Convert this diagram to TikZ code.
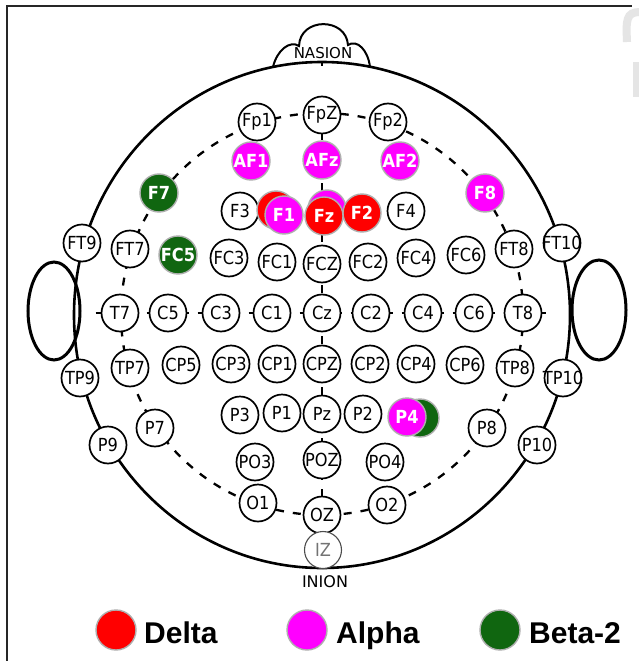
\documentclass[tikz,border=0pt]{standalone}
\usepackage{fontspec}
\setmainfont{DejaVu Sans}
\newfontfamily\elfont[FakeStretch=0.9]{DejaVu Sans}
\newfontfamily\legfont{Liberation Sans}
\usetikzlibrary{backgrounds}
\definecolor{deltared}{RGB}{255,0,0}
\definecolor{alphamag}{RGB}{255,0,255}
\definecolor{betagreen}{RGB}{16,102,16}
\definecolor{halo}{RGB}{175,175,175}
\tikzset{
  elec/.style={circle, draw=black, line width=1.7pt, fill=white, minimum size=37pt,
    inner sep=-9pt, font=\elfont\fontsize{18}{18}\selectfont},
  hit/.style={circle, draw=halo, line width=1.4pt, minimum size=38pt, inner sep=-9pt,
    text=white, font=\elfont\bfseries\fontsize{18}{18}\selectfont},
  bandDelta/.style={hit, fill=deltared},
  bandAlpha/.style={hit, fill=alphamag},
  bandBeta/.style={hit, fill=betagreen},
  guide/.style={line width=2.3pt, dash pattern=on 8pt off 9pt},
  outline/.style={line width=2.6pt},
  landmark/.style={font=\fontsize{15}{15}\selectfont, inner sep=0pt},
  legendtext/.style={font=\legfont\bfseries\fontsize{30}{30}\selectfont, anchor=base west, inner sep=0pt},
}
\begin{document}
\begin{tikzpicture}[x=1pt,y=-1pt]
\useasboundingbox (0,0) rectangle (639,661);

% frame and faint mark in the corner
\draw[line width=2pt, black!85] (7,661) -- (7,6) -- (632,6);
\draw[gray!20, line width=8pt] (640,12) .. controls (626,12) and (626,20) .. (627,42);
\fill[gray!20] (633,62) rectangle (639,97);

% head, ears and nose
\draw[outline] (322,315) ellipse [x radius=248pt, y radius=253pt];
\draw[line width=3pt] (54,311) ellipse [x radius=26pt, y radius=49pt];
\draw[line width=3pt] (599,310) ellipse [x radius=27pt, y radius=50pt];
\draw[line width=2pt] (273,67) .. controls (277,50) and (290,40) .. (299,46)
  .. controls (300,17) and (346,17) .. (348,45)
  .. controls (357,39) and (368,50) .. (370,67);
\node[landmark] (nasion) at (323,53) {NASION};
\node[font=\fontsize{16}{16}\selectfont, inner sep=0pt] (inion) at (325,582) {INION};
\coordinate (ntick) at (322,66);

% plain electrodes
\node[elec] (fp1) at (257,122) {Fp1};
\node[elec] (fpz) at (322,115) {FpZ};
\node[elec] (fp2) at (388,122) {Fp2};
\node[elec] (f3) at (240,211) {F3};
\node[elec] (f4) at (406,211) {F4};
\node[elec] (ft9) at (82,243) {FT9};
\node[elec] (ft7) at (130,249) {FT7};
\node[elec] (fc3) at (229,258) {FC3};
\node[elec] (fc1) at (277,262) {FC1};
\node[elec] (fcz) at (322,264) {FCZ};
\node[elec] (fc2) at (368,262) {FC2};
\node[elec] (fc4) at (416,258) {FC4};
\node[elec] (fc6) at (466,255) {FC6};
\node[elec] (ft8) at (514,249) {FT8};
\node[elec] (ft10) at (562,243) {FT10};
\node[elec] (t7) at (120,313) {T7};
\node[elec] (c5) at (168,313) {C5};
\node[elec] (c3) at (221,313) {C3};
\node[elec] (c1) at (272,313) {C1};
\node[elec] (cz) at (322,313) {Cz};
\node[elec] (c2) at (371,313) {C2};
\node[elec] (c4) at (423,313) {C4};
\node[elec] (c6) at (474,313) {C6};
\node[elec] (t8) at (523,313) {T8};
\node[elec] (tp9) at (80,378) {TP9};
\node[elec] (tp7) at (130,368) {TP7};
\node[elec] (cp5) at (181,365) {CP5};
\node[elec] (cp3) at (231,364) {CP3};
\node[elec] (cp1) at (277,364) {CP1};
\node[elec] (cpz) at (322,364) {CPZ};
\node[elec] (cp2) at (370,364) {CP2};
\node[elec] (cp4) at (416,364) {CP4};
\node[elec] (cp6) at (465,365) {CP6};
\node[elec] (tp8) at (515,368) {TP8};
\node[elec] (tp10) at (563,378) {TP10};
\node[elec] (p9) at (108,445) {P9};
\node[elec] (p7) at (155,428) {P7};
\node[elec] (p3) at (240,415) {P3};
\node[elec] (p1) at (282,413) {P1};
\node[elec] (pz) at (322,414) {Pz};
\node[elec] (p2) at (363,414) {P2};
\node[elec] (p8) at (487,428) {P8};
\node[elec] (p10) at (537,445) {P10};
\node[elec] (po3) at (255,462) {PO3};
\node[elec] (poz) at (322,460) {POZ};
\node[elec] (po4) at (385,462) {PO4};
\node[elec] (o1) at (258,503) {O1};
\node[elec] (oz) at (322,515) {OZ};
\node[elec] (o2) at (387,505) {O2};
\node[elec, draw=black!70, line width=1.1pt, text=black!55] (iz) at (323,550) {IZ};

% electrodes with significant band activity
\node[bandAlpha] (af1) at (251,161) {AF1};
\node[bandAlpha] (afz) at (322,160) {AFz};
\node[bandAlpha] (af2) at (400,161) {AF2};
\node[bandBeta] (f7) at (159,193) {F7};
\node[bandAlpha] (f8) at (485,193) {F8};
\node[bandBeta] (fc5) at (178,255) {FC5};
\node[bandDelta] (f1d) at (276,210) {};
\node[bandAlpha] (f1) at (284,215) {F1};
\node[bandAlpha] (fza) at (327,209) {};
\node[bandDelta] (fz) at (324,216) {Fz};
\node[bandDelta] (f2) at (362,213) {F2};
\node[bandBeta] (p4b) at (420,418) {};
\node[bandAlpha] (p4) at (407,417) {P4};

% reference lines of the 10-20 layout
\begin{pgfonlayer}{background}
  \fill[white] (0,0) rectangle (639,661);
  \draw[guide] (322,314) circle [radius=201pt];
  \draw[guide] (fpz.center) -- (oz.center);
  \draw[line width=1.5pt] (ntick) -- ++(0,-5);
  \draw[guide] ([xshift=-5pt]t7.west) -- ([xshift=5pt]t8.east);
\end{pgfonlayer}

% legend
\node[bandDelta, minimum size=40pt] (kdelta) at (116,630) {};
\node[legendtext] (tdelta) at (144,643) {Delta};
\node[bandAlpha, minimum size=40pt] (kalpha) at (307,630) {};
\node[legendtext] (talpha) at (336,643) {Alpha};
\node[bandBeta, minimum size=40pt] (kbeta) at (500,630) {};
\node[legendtext] (tbeta) at (529,643) {Beta-2};
\end{tikzpicture}
\end{document}
